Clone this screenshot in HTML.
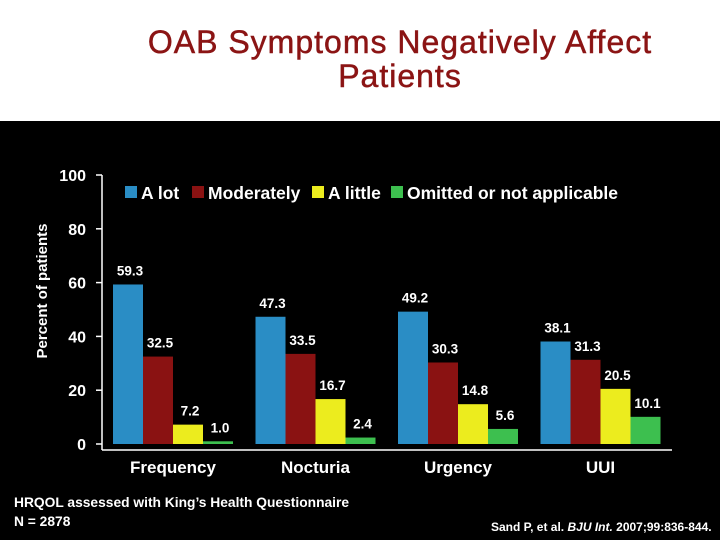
<!DOCTYPE html>
<html><head><meta charset="utf-8"><style>
body{margin:0;width:720px;height:540px;overflow:hidden;background:#fff;font-family:"Liberation Sans",Arial,sans-serif}
#hdr{position:absolute;left:0;top:0;width:720px;height:121px;background:#fff}
#title{position:absolute;left:80px;width:640px;top:25px;text-align:center;color:#8b1414;font-size:32px;font-weight:normal;letter-spacing:1px;-webkit-text-stroke:0.5px #8b1414;line-height:34px}
#panel{position:absolute;left:0;top:121px;width:720px;height:419px;background:#000}
</style></head><body>
<div id="hdr"><div id="title">OAB Symptoms Negatively Affect<br>Patients</div></div>
<div id="panel"></div>
<svg id="chart" width="720" height="540" style="position:absolute;left:0;top:0"></svg>
<script>
const categories=["Frequency","Nocturia","Urgency","UUI"];
const seriesNames=["A lot","Moderately","A little","Omitted or not applicable"];
const aLot=[59.3,47.3,49.2,38.1];
const moderately=[32.5,33.5,30.3,31.3];
const aLittle=[7.2,16.7,14.8,20.5];
const omitted=[1.0,2.4,5.6,10.1];
const yTicks=[0,20,40,60,80,100];
const series=[aLot,moderately,aLittle,omitted];
const colors=["#2a8dc5","#8a1212","#ecec1e","#3dbf4f"];
const svg=document.getElementById('chart');
const NS="http://www.w3.org/2000/svg";
function y(v){return 444-v*2.69;}
function gx(i){return 113+i*142.5;}
function mk(t,a){const e=document.createElementNS(NS,t);for(const k in a)e.setAttribute(k,a[k]);svg.appendChild(e);return e;}
let e=mk('line',{x1:102,y1:175,x2:102,y2:450,stroke:'#fff','stroke-width':1.5});


e=mk('line',{x1:102,y1:450,x2:672,y2:450,stroke:'#fff','stroke-width':1.5});


yTicks.forEach(t=>{
 let l=mk('line',{x1:96,y1:y(t),x2:102,y2:y(t),stroke:'#fff','stroke-width':1.5});
 
 
 let tx=mk('text',{x:86,y:y(t)+6,fill:'#fff','font-size':16,'font-weight':'bold','text-anchor':'end'});
 tx.textContent=t;
 
 
});
let yt=mk('text',{x:0,y:0,fill:'#fff','font-size':15,'font-weight':'bold','text-anchor':'middle',transform:'translate(47,291) rotate(-90)'});
yt.textContent='Percent of patients';


categories.forEach((c,i)=>{
 series.forEach((s,j)=>{
  const v=s[i],x=gx(i)+j*30;
  let r=mk('rect',{x:x,y:y(v),width:30,height:444-y(v),fill:colors[j]});
  
  
  let t=mk('text',{x:x+17,y:y(v)-9,fill:'#fff','font-size':13.5,'font-weight':'bold','text-anchor':'middle'});
  t.textContent=v.toFixed(1);
  
  
 });
 let ct=mk('text',{x:gx(i)+60,y:473,fill:'#fff','font-size':17,'font-weight':'bold','text-anchor':'middle'});
 ct.textContent=c;
 
 
});
const legX=[125,192,312,391];
seriesNames.forEach((n,j)=>{
 let r=mk('rect',{x:legX[j],y:186,width:12,height:12,fill:colors[j]});
 
 
 let t=mk('text',{x:legX[j]+16,y:199,fill:'#fff','font-size':17.5,'font-weight':'bold'});
 t.textContent=n;
 
 
});
function note(x,y0,txt,name,fs){let t=mk('text',{x:x,y:y0,fill:'#fff','font-size':fs,'font-weight':'bold'});t.innerHTML=txt;}
note(14,507,'HRQOL assessed with King’s Health Questionnaire','footnote-hrqol',13.8);
note(14,526,'N = 2878','footnote-n',13.8);
note(491,531,'Sand P, et al. <tspan font-style="italic">BJU Int.</tspan> 2007;99:836-844.','citation',12);
</script>
</body></html>
